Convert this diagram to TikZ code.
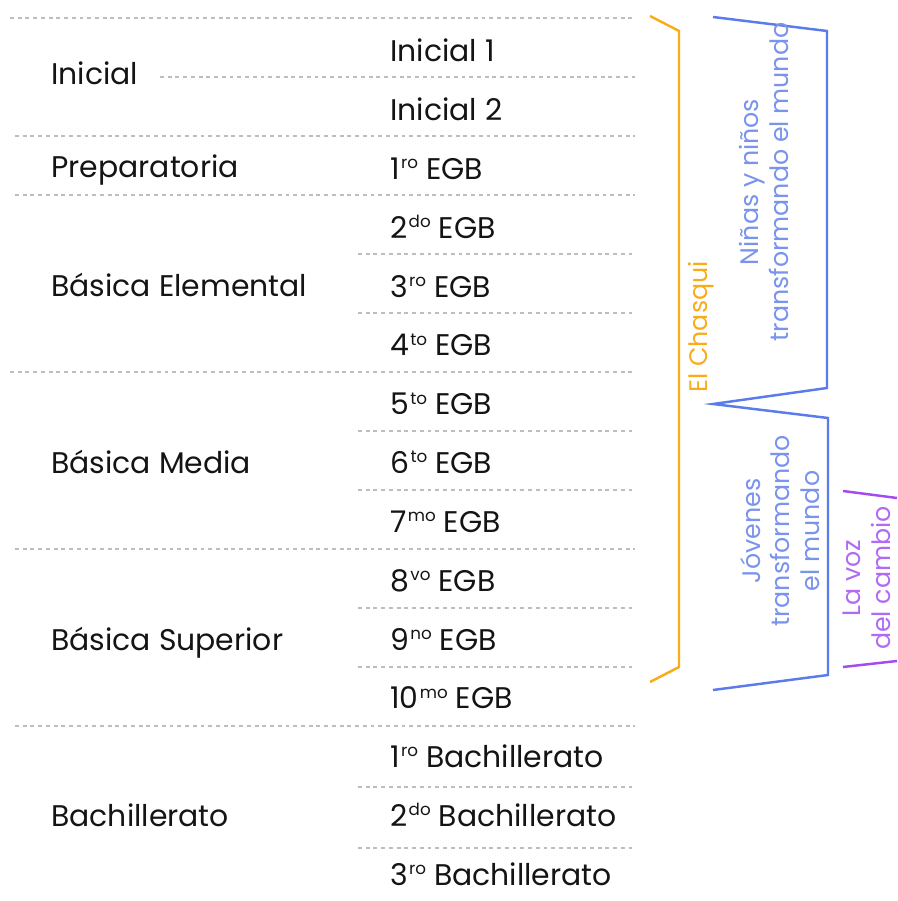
\documentclass[tikz,border=0pt]{standalone}
\usepackage{fontspec}
\setmainfont{Poppins}
\definecolor{sepgray}{HTML}{BDBDBD}
\definecolor{chasqui}{HTML}{F9AC1A}
\definecolor{mundo}{HTML}{5B7BEA}
\definecolor{mundotext}{HTML}{7A93EC}
\definecolor{voz}{HTML}{A24BEF}
\definecolor{voztext}{HTML}{B16AF3}
\newcommand{\grado}[2]{#1\kern0.04em\raisebox{0.36em}{\scalebox{0.56}{#2}}}

\tikzset{
    sep/.style={sepgray, line width=0.8pt, dash pattern=on 2.2pt off 2.2pt},
    nivel/.style={anchor=base west, inner sep=0pt, text=black!92,
        font=\fontsize{17}{20}\selectfont},
    grupo/.style={rotate=90, align=center, inner sep=0pt,
        font=\fontsize{14.4}{16.8}\selectfont},
    llave/.style={line width=1.4pt, line join=miter},
}

\begin{document}
\begin{tikzpicture}[x=0.02cm, y=-0.02cm]
            \useasboundingbox (0,0) rectangle (897,901);
            % separadores
            \foreach \y/\xa in {18/10, 136/15, 195/15, 372/10, 549/15, 726/15}
                \draw[sep] (\xa,\y) -- (635,\y);
            \foreach \y in {254, 313, 431, 490, 608, 667, 787, 848}
                \draw[sep] (358,\y) -- (636,\y);
            \draw[sep] (160,77) -- (636,77);
            % niveles
            \node[nivel] (inicial) at (51,85) {Inicial};
            \node[nivel] (preparatoria) at (51,178) {Preparatoria};
            \node[nivel] (elemental) at (51,297) {Básica Elemental};
            \node[nivel] (media) at (51,473) {Básica Media};
            \node[nivel] (superior) at (51,650) {Básica Superior};
            \node[nivel] (bachillerato) at (51,826) {Bachillerato};
            % grados
            \foreach \t [count=\i from 0] in {Inicial 1, Inicial 2,
                    \grado{1}{ro} EGB, \grado{2}{do} EGB, \grado{3}{ro} EGB,
                    \grado{4}{to} EGB, \grado{5}{to} EGB, \grado{6}{to} EGB,
                    \grado{7}{mo} EGB, \grado{8}{vo} EGB, \grado{9}{no} EGB,
                    \grado{10}{mo} EGB, \grado{1}{ro} Bachillerato,
                    \grado{2}{do} Bachillerato, \grado{3}{ro} Bachillerato}
                \node[nivel] (g\i) at (390,{62+58.8*\i}) {\t};
            % proyectos
            \draw[llave, chasqui] (650,16) -- (679,31) -- (679,667) -- (650,682);
            \node[grupo, text=chasqui, anchor=base] (chasqui) at (707,327) {El Chasqui};
            \draw[llave, mundo] (713,17) -- (827,31) -- (827,388) -- (713,404)
                -- (828,418) -- (828,675) -- (713,690);
            \node[grupo, text=mundotext] (ninos) at (764,182) {Niñas y niños\\transformando el mundo};
            \node[grupo, text=mundotext] (jovenes) at (780,531) {Jóvenes\\transformando\\el mundo};
            \draw[llave, voz] (843,491) -- (897,498);
            \draw[llave, voz] (843,667) -- (897,661);
            \node[grupo, text=voztext] (voz) at (867,578) {La voz\\del cambio};
        \end{tikzpicture}
\end{document}
